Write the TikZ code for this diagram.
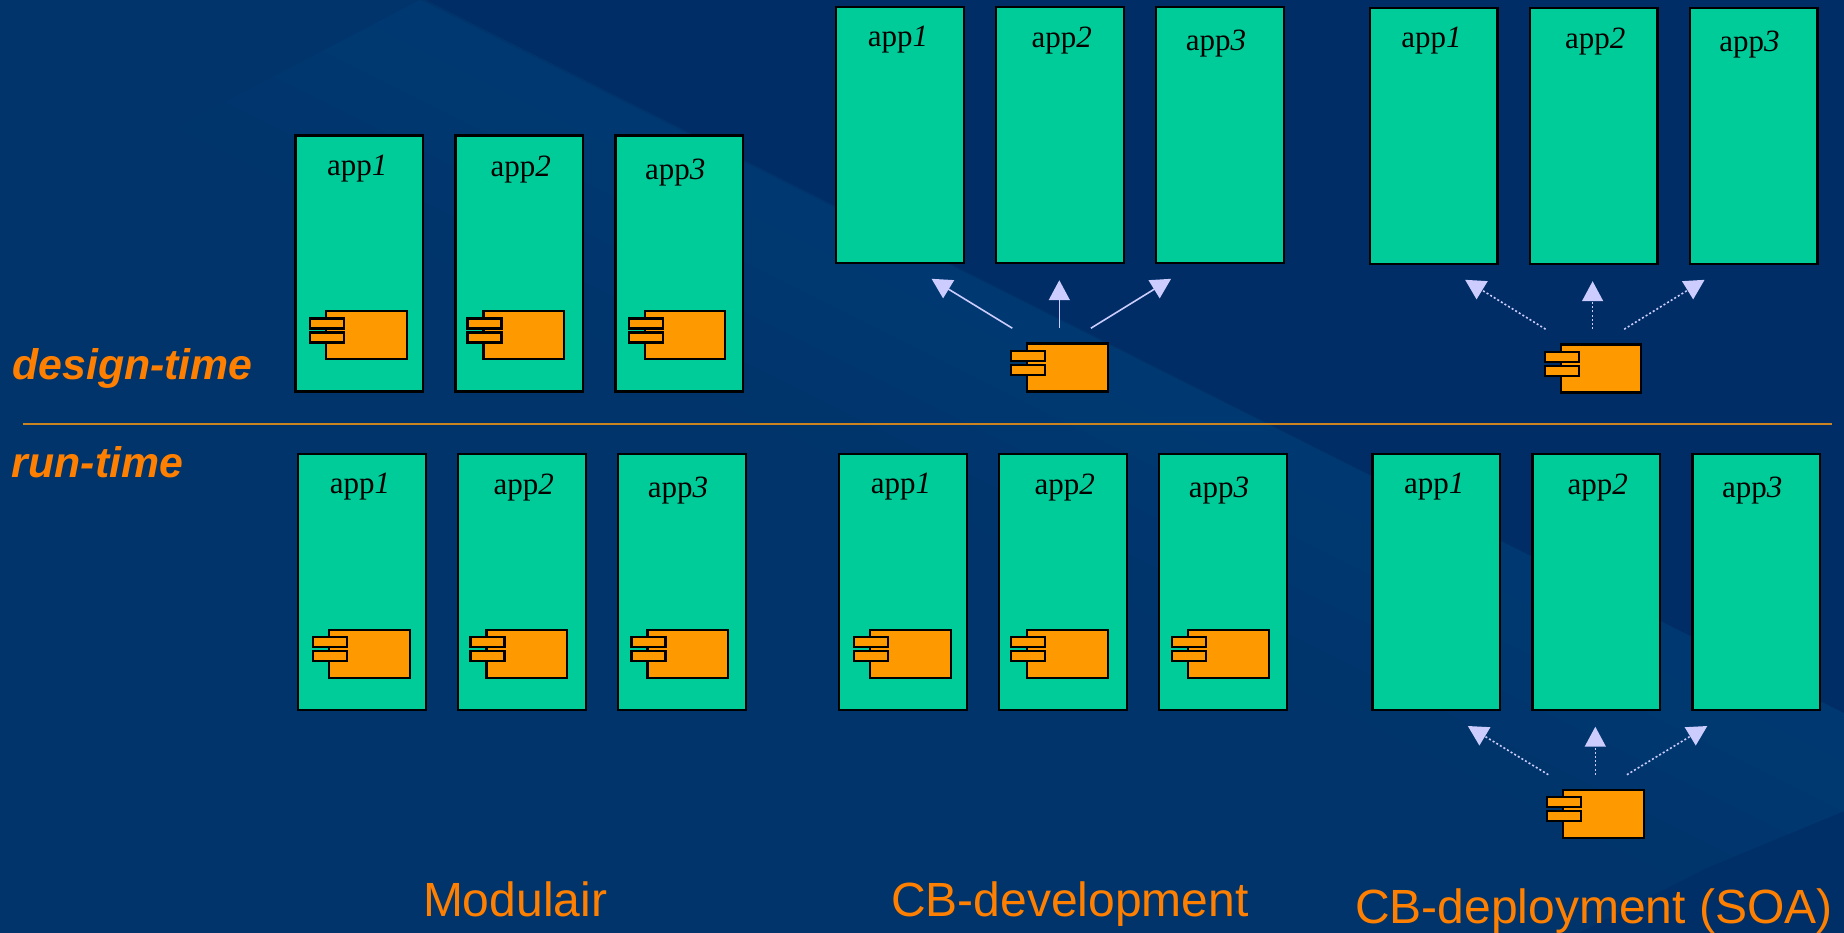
\documentclass[tikz,border=0pt]{standalone}
\usepackage{fontspec}
\setmainfont{Liberation Serif}
\newfontfamily\arialf{Liberation Sans}
\usetikzlibrary{arrows.meta,calc}
\definecolor{bgbase}{HTML}{00346B}
\definecolor{bgdark}{HTML}{002D66}
\definecolor{bglight}{HTML}{003971}
\definecolor{appfill}{HTML}{00CC99}
\definecolor{compfill}{HTML}{FF9900}
\definecolor{arrowc}{HTML}{CCCCFF}
\definecolor{txto}{HTML}{FF8000}
\definecolor{rulec}{HTML}{CC8420}
\tikzset{
  appbox/.style={draw=black,fill=appfill,line width=2.2pt,minimum width=127.6pt,minimum height=256pt,inner sep=0pt,outer sep=0pt,anchor=north west},
  applabel/.style={inner sep=0pt,outer sep=0pt,anchor=base west,text=black,font=\fontsize{31}{31}\selectfont},
  compbody/.style={draw=black,fill=compfill,line width=2.2pt,minimum width=80.6pt,minimum height=48pt,inner sep=0pt,outer sep=0pt,anchor=north west},
  comptab/.style={draw=black,fill=compfill,line width=2.2pt,minimum width=34pt,minimum height=10pt,inner sep=0pt,outer sep=0pt,anchor=north west},
  solidarrow/.style={draw=arrowc,line width=1.6pt,-{Triangle[length=20pt,width=21pt,fill=arrowc]}},
  dotarrow/.style={solidarrow,dash pattern=on 2pt off 2.2pt},
  rowlabel/.style={inner sep=0pt,outer sep=0pt,anchor=base west,text=txto,font=\arialf\bfseries\itshape\fontsize{42.8}{43}\selectfont},
  grouplabel/.style={inner sep=0pt,outer sep=0pt,anchor=base west,text=txto,font=\arialf\fontsize{48}{48}\selectfont},
}
\newcommand{\appgroup}[3]{%
  \node[appbox] (#1a) at (#2,#3) {};
  \node[appbox] (#1b) at ($(#2,#3)+(160,0)$) {};
  \node[appbox] (#1c) at ($(#2,#3)+(320,0)$) {};
  \node[applabel] (#1al) at ($(#2,#3)+(31.6,39.7)$) {app\textit{1}};
  \node[applabel] (#1bl) at ($(#2,#3)+(195.2,40.7)$) {app\textit{2}};
  \node[applabel] (#1cl) at ($(#2,#3)+(349.6,43.7)$) {app\textit{3}};
}
\newcommand{\compo}[3]{%
  \node[compbody] (#1) at (#2,#3) {};
  \node[comptab] (#1t) at ($(#2,#3)+(-16,7.2)$) {};
  \node[comptab] (#1u) at ($(#2,#3)+(-16,21.2)$) {};
}
\newcommand{\fan}[5]{% style, component, three targets
  \draw[#1] ([shift={(-15,-15.3)}]#2.north west) -- ([shift={(31.5,16)}]#3.south);
  \draw[#1] ([shift={(32,-15.3)}]#2.north west) -- ([shift={(32,-63.3)}]#2.north west);
  \draw[#1] ([shift={(63.6,-15.3)}]#2.north west) -- ([shift={(-49,16)}]#5.south);
}
\begin{document}
\begin{tikzpicture}[x=1pt,y=-1pt]
\useasboundingbox (0,0) rectangle (1844,932);
% background
\fill[bgbase] (-3,-3) rectangle (1847,936);
\begin{scope}
  \clip (420,0) -- (1844,713) -- (1844,932) -- (0,932) -- (0,220) -- cycle;
  \foreach \k in {0,...,5}{
    \pgfmathtruncatemacro{\pct}{100-\k*20}
    \pgfmathsetmacro{\off}{\k*50}
    \fill[bglight!\pct!bgbase] (0,-210+\off) -- (1844,712+\off) -- (1844,1400) -- (0,1400) -- cycle;
  }
\end{scope}
\fill[bgdark] (420,-3) -- (1847,-3) -- (1847,713) -- (1844,713) -- cycle;
\fill[bgdark!70!bgbase] (1573,936) -- (1707,868) -- (1847,810) -- (1847,936) -- cycle;
% rows and rule
\coordinate (ruleL) at (22.5,423.5);
\coordinate (ruleR) at (1832,423.5);
\draw[rulec,line width=2pt] (ruleL) -- (ruleR);
\node[rowlabel] (dt) at (12.5,379) {design-time};
\node[rowlabel] (rt) at (12,477.7) {run-time};
% applications
\appgroup{P}{295.5}{135.5}
\appgroup{Q}{836.3}{6.8}
\appgroup{R}{1369.8}{7.8}
\appgroup{S}{298.3}{454}
\appgroup{T}{839.3}{454}
\appgroup{U}{1372.5}{454}
% components
\compo{pa}{326}{311.3}
\compo{pb}{483.4}{311.3}
\compo{pc}{644.6}{311.3}
\compo{qc}{1027.3}{343.5}
\compo{rc}{1560.6}{344.5}
\compo{sa}{329}{629.8}
\compo{sb}{486.4}{629.8}
\compo{sc}{647.4}{629.8}
\compo{ta}{870}{629.8}
\compo{tb}{1027.3}{629.8}
\compo{tc}{1188}{629.8}
\compo{uc}{1563.3}{790}
% arrows
\fan{solidarrow}{qc}{Qa}{Qb}{Qc}
\fan{dotarrow}{rc}{Ra}{Rb}{Rc}
\fan{dotarrow}{uc}{Ua}{Ub}{Uc}
% column titles
\node[grouplabel] (g1) at (423,916.5) {Modulair};
\node[grouplabel] (g2) at (891,916) {CB-development};
\node[grouplabel] (g3) at (1355,923.3) {CB-deployment (SOA)};
\end{tikzpicture}
\end{document}
